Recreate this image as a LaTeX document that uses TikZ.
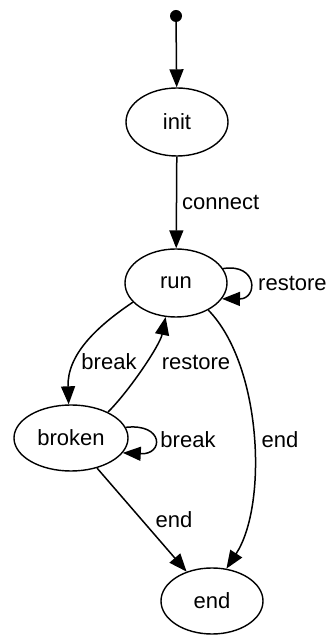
\documentclass[tikz,border=0pt]{standalone}
\usepackage{fontspec}
\setmainfont{Liberation Sans}
\usetikzlibrary{arrows.meta,shapes.geometric}
\begin{document}
\begin{tikzpicture}[x=1pt,y=1pt,
  state/.style={draw,ellipse,line width=1.4pt,inner sep=0pt,minimum width=102pt,minimum height=68pt,font=\fontsize{22}{26}\selectfont},
  edge/.style={draw,line width=1.5pt,-{Triangle[length=18pt,width=14pt]}},
  lbl/.style={font=\fontsize{22}{26}\selectfont,inner sep=0pt}]
  \useasboundingbox (0,0) rectangle (331,635);

  % states
  \node[circle,fill=black,inner sep=0pt,minimum size=12pt] (start) at (176,619) {};
  \node[state] (init) at (177,513) {init};
  \node[state] (run) at (176,352) {run};
  \node[state,minimum width=114pt,minimum height=66pt] (broken) at (71,197) {broken};
  \node[state,minimum height=66pt] (end) at (212,34) {end};

  % transitions
  \draw[edge] (start) -- (init);
  \draw[edge] (init) -- (run);
  \node[lbl,anchor=west] (lconnect) at (182,432) {connect};

  \draw[edge] (run.17) .. controls (258,372) and (258,336) .. (run.-19);
  \node[lbl,anchor=west] (lrestore1) at (258,352) {restore};

  \draw[edge] (run.204) .. controls (96,308) and (67,280) .. (broken.94);
  \node[lbl] (lbreak1) at (109,273) {break};

  \draw[edge] (broken.35) .. controls (130,245) and (160,290) .. (run.253);
  \node[lbl] (lrestore2) at (196,273) {restore};

  \draw[edge] (broken.11) .. controls (164,212) and (164,180) .. (broken.-16);
  \node[lbl] (lbreak2) at (188,195) {break};

  \draw[edge] (run.-40) .. controls (262,270) and (268,130) .. (end.66);
  \node[lbl] (lend1) at (280,195) {end};

  \draw[edge] (broken) -- (end);
  \node[lbl] (lend2) at (174,115) {end};
\end{tikzpicture}
\end{document}
